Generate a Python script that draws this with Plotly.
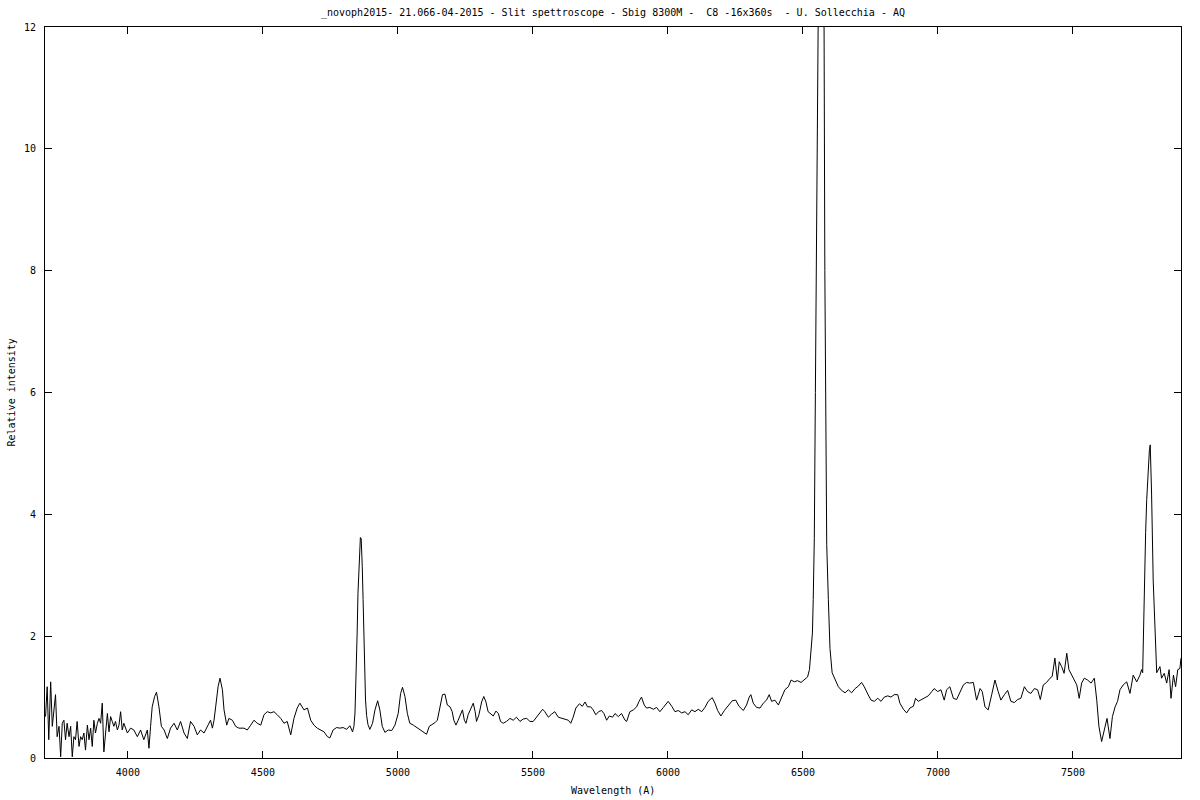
import plotly.graph_objects as go

# Spectrum: wavelength (Angstrom) and relative intensity
wavelength = [
    3695, 3701, 3707, 3714, 3720, 3726, 3732, 3738, 3745, 3751, 3757, 3763, 3769, 3775, 3782, 3788,
    3794, 3800, 3806, 3812, 3819, 3825, 3831, 3837, 3843, 3850, 3856, 3862, 3868, 3874, 3880, 3887,
    3893, 3899, 3905, 3911, 3917, 3924, 3930, 3936, 3942, 3948, 3954, 3961, 3967, 3973, 3979, 3985,
    3998, 4010, 4022, 4035, 4047, 4059, 4072, 4078, 4084, 4090, 4099, 4106, 4115, 4124, 4134, 4146,
    4158, 4171, 4183, 4195, 4208, 4220, 4232, 4245, 4257, 4269, 4282, 4294, 4306, 4313, 4319, 4325,
    4334, 4341, 4350, 4356, 4366, 4374, 4387, 4399, 4411, 4430, 4442, 4455, 4467, 4479, 4492, 4504,
    4516, 4529, 4541, 4553, 4566, 4578, 4590, 4603, 4615, 4627, 4637, 4652, 4665, 4677, 4689, 4701,
    4714, 4726, 4739, 4748, 4760, 4773, 4785, 4797, 4810, 4822, 4832,
    4837, 4841, 4845, 4849, 4852, 4855, 4858, 4861, 4864, 4866, 4868, 4871, 4874, 4877, 4880, 4884,
    4889, 4896, 4906, 4915, 4925, 4933, 4942, 4952, 4964, 4977, 4989, 5001, 5010, 5017, 5026, 5035,
    5044, 5057, 5069, 5081, 5094, 5106, 5116, 5125, 5137, 5146, 5156, 5165, 5174, 5183, 5193, 5201,
    5207, 5215, 5223, 5232, 5239, 5246, 5252, 5260, 5269, 5279, 5286, 5291, 5300, 5310, 5318, 5326,
    5334, 5343, 5353, 5363, 5372, 5380, 5390, 5402, 5415, 5427, 5439, 5452, 5464, 5477, 5489, 5501,
    5514, 5526, 5536, 5544, 5557, 5569, 5581, 5594, 5606, 5618, 5631, 5640, 5649, 5659, 5672, 5683,
    5693, 5702, 5714, 5723, 5733, 5743, 5754, 5763, 5773, 5783, 5795,
    5804, 5816, 5828, 5841, 5847, 5859, 5872, 5884, 5893, 5902, 5912, 5921, 5933, 5946, 5958, 5970,
    5983, 5991, 6001, 6014, 6026, 6038, 6051, 6063, 6075, 6088, 6100, 6112, 6125, 6137, 6149, 6164,
    6174, 6184, 6196, 6209, 6224, 6238, 6251, 6263, 6279, 6291, 6301, 6307, 6316, 6328, 6341, 6353,
    6365, 6375, 6384, 6396, 6409, 6421, 6433, 6446, 6456, 6468, 6480, 6493, 6505, 6517,
    6524, 6530, 6535, 6538, 6542, 6546, 6549, 6552, 6557, 6563, 6570, 6575, 6578, 6581, 6584, 6588,
    6594, 6600, 6608, 6618, 6631, 6643, 6656, 6668, 6680, 6693, 6705, 6717, 6727, 6740, 6752, 6764,
    6777, 6789, 6801, 6814, 6826, 6838, 6851, 6859, 6872, 6884, 6896, 6909, 6917, 6927, 6939, 6952,
    6964, 6977, 6986, 6999, 7011, 7023, 7032, 7044, 7057, 7069, 7081, 7094, 7106, 7118, 7131, 7143,
    7156, 7164, 7174, 7186, 7199, 7211, 7223, 7233, 7246, 7258, 7270, 7283, 7295, 7307, 7320, 7332,
    7344, 7357, 7369, 7379, 7390, 7402, 7415, 7423, 7433, 7442, 7449, 7458, 7467, 7477, 7485, 7495,
    7505, 7514, 7523, 7532, 7542, 7554, 7567, 7579, 7588, 7596, 7606, 7616, 7626, 7637, 7646, 7656,
    7665, 7674, 7686, 7699, 7711, 7723, 7736, 7748, 7754,
    7758, 7764, 7769, 7773, 7778, 7783, 7786, 7791, 7797, 7804, 7810, 7822, 7828, 7838, 7847, 7856,
    7863, 7872, 7880, 7888, 7896, 7900,
]

intensity = [
    0.68, 1.17, 0.30, 1.25, 0.52, 0.76, 1.04, 0.35, 0.52, 0.02, 0.57, 0.62, 0.30, 0.57, 0.35, 0.52,
    0.02, 0.35, 0.30, 0.60, 0.19, 0.35, 0.30, 0.41, 0.13, 0.54, 0.30, 0.49, 0.19, 0.62, 0.41, 0.57,
    0.65, 0.57, 0.90, 0.10, 0.46, 0.73, 0.43, 0.68, 0.60, 0.52, 0.60, 0.46, 0.54, 0.76, 0.46, 0.57,
    0.41, 0.49, 0.46, 0.35, 0.46, 0.30, 0.46, 0.16, 0.52, 0.84, 1.01, 1.08, 0.84, 0.52, 0.46, 0.32,
    0.49, 0.57, 0.46, 0.60, 0.41, 0.32, 0.60, 0.52, 0.38, 0.46, 0.41, 0.52, 0.62, 0.49, 0.62, 0.84,
    1.17, 1.31, 1.12, 0.79, 0.54, 0.65, 0.62, 0.52, 0.49, 0.49, 0.46, 0.54, 0.62, 0.57, 0.54, 0.71,
    0.76, 0.74, 0.76, 0.71, 0.65, 0.57, 0.60, 0.38, 0.65, 0.82, 0.90, 0.79, 0.82, 0.62, 0.54, 0.49,
    0.46, 0.43, 0.35, 0.33, 0.46, 0.50, 0.49, 0.50, 0.47, 0.53, 0.43,
    0.52, 0.74, 1.30, 2.05, 2.70, 3.14, 3.55, 3.62, 3.60, 3.45, 3.14, 2.60, 2.05, 1.45, 0.95, 0.70,
    0.55, 0.47, 0.57, 0.79, 0.94, 0.79, 0.52, 0.42, 0.46, 0.45, 0.54, 0.73, 1.06, 1.16, 1.01, 0.73,
    0.57, 0.54, 0.50, 0.47, 0.43, 0.39, 0.52, 0.54, 0.58, 0.62, 0.84, 1.04, 1.05, 0.87, 0.84, 0.76,
    0.62, 0.54, 0.62, 0.73, 0.79, 0.62, 0.57, 0.71, 0.79, 0.90, 0.76, 0.60, 0.71, 0.92, 1.01, 0.92,
    0.76, 0.72, 0.69, 0.77, 0.73, 0.60, 0.57, 0.60, 0.65, 0.62, 0.67, 0.60, 0.64, 0.65, 0.60, 0.60,
    0.67, 0.73, 0.80, 0.76, 0.67, 0.72, 0.76, 0.67, 0.65, 0.64, 0.62, 0.57, 0.67, 0.82, 0.89, 0.85,
    0.92, 0.84, 0.84, 0.79, 0.71, 0.76, 0.78, 0.73, 0.62, 0.69, 0.67,
    0.73, 0.68, 0.73, 0.62, 0.60, 0.76, 0.79, 0.84, 0.93, 1.00, 0.87, 0.82, 0.83, 0.80, 0.83, 0.76,
    0.83, 0.87, 0.93, 0.85, 0.76, 0.78, 0.74, 0.76, 0.71, 0.79, 0.76, 0.80, 0.76, 0.83, 0.93, 0.99,
    0.90, 0.78, 0.69, 0.78, 0.87, 0.94, 0.95, 0.85, 0.78, 0.87, 1.00, 1.04, 0.90, 0.83, 0.82, 0.90,
    0.95, 1.04, 0.93, 0.95, 0.87, 1.01, 1.12, 1.17, 1.28, 1.25, 1.27, 1.24, 1.28, 1.33,
    1.45, 1.75, 2.05, 2.60, 3.60, 6.00, 9.00, 12.3, 15.0, 16.0, 15.0, 13.5, 12.2, 8.00, 5.00, 3.50,
    2.60, 1.80, 1.40, 1.31, 1.17, 1.11, 1.07, 1.12, 1.07, 1.14, 1.18, 1.24, 1.17, 1.05, 0.95, 0.93,
    0.98, 0.93, 1.00, 1.02, 1.00, 1.04, 1.04, 0.90, 0.80, 0.74, 0.82, 0.85, 0.98, 0.93, 0.96, 0.98,
    1.02, 1.09, 1.14, 1.09, 1.12, 0.95, 1.12, 1.17, 0.98, 0.96, 1.09, 1.20, 1.24, 1.23, 1.24, 0.95,
    1.14, 1.09, 0.84, 0.79, 1.04, 1.28, 1.09, 0.95, 1.04, 1.11, 0.93, 0.91, 0.96, 0.98, 1.17, 1.09,
    1.06, 1.14, 1.12, 0.96, 1.20, 1.24, 1.31, 1.34, 1.64, 1.28, 1.58, 1.50, 1.39, 1.72, 1.45, 1.36,
    1.28, 1.20, 0.98, 1.23, 1.31, 1.28, 1.23, 1.31, 0.95, 0.52, 0.27, 0.46, 0.65, 0.32, 0.68, 0.84,
    0.93, 1.12, 1.20, 1.25, 1.06, 1.36, 1.25, 1.36, 1.45,
    1.40, 2.92, 3.70, 4.24, 4.70, 5.06, 5.14, 4.35, 2.92, 2.05, 1.40, 1.50, 1.31, 1.39, 1.23, 1.45,
    0.98, 1.36, 1.17, 1.45, 1.47, 1.64,
]

x_ticks = [4000, 4500, 5000, 5500, 6000, 6500, 7000, 7500]
y_ticks = [0, 2, 4, 6, 8, 10, 12]

title_text = "_novoph2015- 21.066-04-2015 - Slit spettroscope - Sbig 8300M -  C8 -16x360s  - U. Sollecchia - AQ"
x_label = "Wavelength (A)"
y_label = "Relative intensity"

FONT = "DejaVu Sans Mono"

fig = go.Figure()
fig.add_trace(go.Scatter(
    x=wavelength, y=intensity, mode="lines",
    line=dict(color="black", width=1),
    showlegend=False, hoverinfo="skip",
))

axis_common = dict(
    showline=True, linecolor="black", linewidth=1, mirror="ticks",
    ticks="inside", ticklen=7, tickwidth=1, tickcolor="black",
    showgrid=False, zeroline=False,
    tickfont=dict(family=FONT, size=10, color="black"),
)

fig.update_layout(
    width=1200, height=800,
    margin=dict(l=45, r=19, t=27, b=42),
    paper_bgcolor="white", plot_bgcolor="white",
    font=dict(family=FONT, size=10, color="black"),
    title=dict(text=title_text, x=613 / 1200, xanchor="center", y=1 - 12 / 800, yanchor="middle",
               font=dict(family=FONT, size=10, color="black")),
    xaxis=dict(range=[3693, 7900], tickvals=x_ticks, ticklabelstandoff=5, **axis_common),
    yaxis=dict(range=[0, 12], tickvals=y_ticks, ticklabelstandoff=6, **axis_common),
    annotations=[
        dict(text=x_label, xref="paper", yref="paper", x=0.5, y=(758 - 790) / 731,
             xanchor="center", yanchor="middle", showarrow=False,
             font=dict(family=FONT, size=10, color="black")),
        dict(text=y_label, xref="paper", yref="paper", x=(11 - 45) / 1136, y=0.5,
             xanchor="center", yanchor="middle", textangle=-90, showarrow=False,
             font=dict(family=FONT, size=10, color="black")),
    ],
)

fig.write_html(
    "out.html",
    config={"displayModeBar": False},
    post_script="document.body.style.margin='0';document.body.style.overflow='hidden';",
)
